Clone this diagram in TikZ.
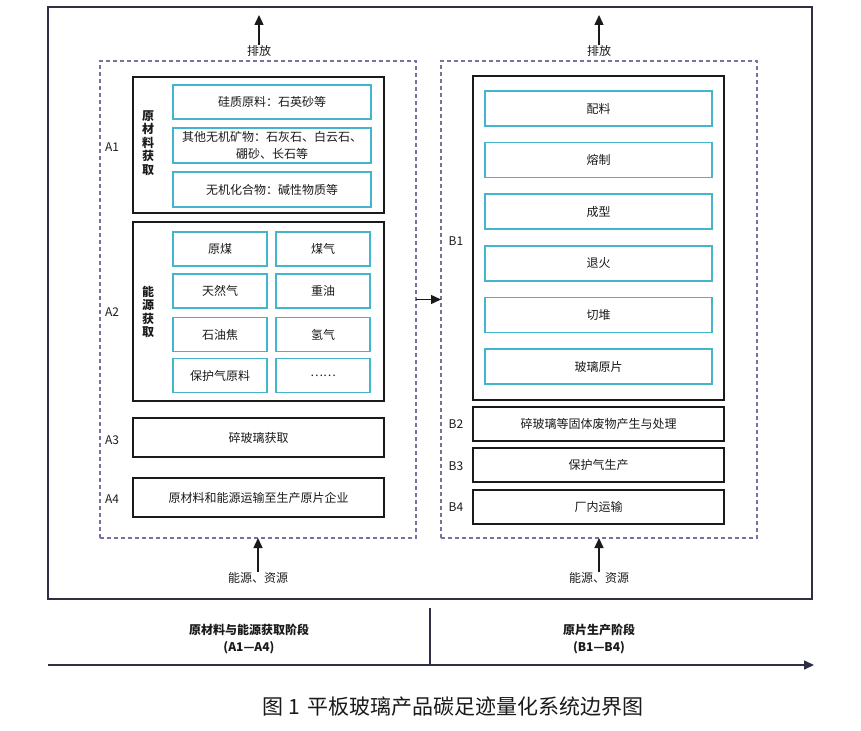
\documentclass[tikz,border=0pt]{standalone}
\usepackage{fontspec}
\setmainfont{Noto Sans CJK SC}
\usetikzlibrary{arrows.meta}
\definecolor{outerc}{HTML}{2E2F44}
\definecolor{dashc}{HTML}{7E6E9E}
\definecolor{cyanc}{HTML}{45B4CD}
\definecolor{blkc}{HTML}{1A1A1A}
\begin{document}
\begin{tikzpicture}[x=1pt,y=-1pt,
  every node/.style={inner sep=0pt, outer sep=0pt, font=\fontsize{12}{14}\selectfont, text=blkc},
  sz/.style 2 args={minimum width=#1, minimum height=#2},
  outerbox/.style={draw=outerc, line width=1.5pt},
  dashbox/.style={draw=dashc, line width=1.3pt, dash pattern=on 4pt off 3pt},
  blkbox/.style={draw=blkc, line width=1.5pt},
  cyanbox/.style={draw=cyanc, line width=1.6pt},
  vlbl/.style={font=\bfseries\fontsize{12}{13.5}\selectfont, align=center},
  arr/.style={draw=blkc, line width=1.4pt, -{Triangle[length=10pt,width=9pt]}},
  stage/.style={font=\bfseries\fontsize{12}{17}\selectfont, align=center}
]
\useasboundingbox (0,0) rectangle (861,730);

% frames
\node[outerbox, sz={764}{592}] (outer) at (430,303) {};
\node[dashbox, sz={316}{477}] (dashL) at (258,299.5) {};
\node[dashbox, sz={316}{477}] (dashR) at (599,299.5) {};

% emissions / inputs
\node (emL) at (259,51) {排放};
\coordinate (emLt) at (259,15);
\draw[arr] (emL.north) -- (emLt);
\node (emR) at (599,51) {排放};
\coordinate (emRt) at (599,15);
\draw[arr] (emR.north) -- (emRt);
\node (reL) at (258,578) {能源、资源};
\draw[arr] (reL.north) -- (dashL.south);
\node (reR) at (599,578) {能源、资源};
\draw[arr] (reR.north) -- (dashR.south);

% A1
\node[blkbox, sz={251}{136}] (A1) at (258.5,145) {};
\node (lA1) at (112,147) {A1};
\node[vlbl] (vA1) at (148,143) {原\\材\\料\\获\\取};
\node[cyanbox, sz={198}{34}] (a11) at (272,102) {硅质原料：石英砂等};
\node[cyanbox, sz={198}{35}, align=center, font=\fontsize{12}{17}\selectfont] (a12) at (272,145.5) {其他无机矿物：石灰石、白云石、\\硼砂、长石等};
\node[cyanbox, sz={198}{35}] (a13) at (272,189.5) {无机化合物：碱性物质等};

% A2
\node[blkbox, sz={251}{179}] (A2) at (258.5,311.5) {};
\node (lA2) at (112,312) {A2};
\node[vlbl] (vA2) at (148,312) {能\\源\\获\\取};
\node[cyanbox, sz={94}{34}] (a21) at (220,249) {原煤};
\node[cyanbox, sz={94}{34}] (a22) at (323,249) {煤气};
\node[cyanbox, sz={94}{34}] (a23) at (220,291) {天然气};
\node[cyanbox, sz={94}{34}] (a24) at (323,291) {重油};
\node[cyanbox, sz={94}{34}] (a25) at (220,334.5) {石油焦};
\node[cyanbox, sz={94}{34}] (a26) at (323,334.5) {氢气};
\node[cyanbox, sz={94}{34}] (a27) at (220,375.5) {保护气原料};
\node[cyanbox, sz={94}{34}] (a28) at (323,375.5) {……};

% A3, A4
\node[blkbox, sz={251}{39}] (A3) at (258.5,437.5) {碎玻璃获取};
\node (lA3) at (112,440) {A3};
\node[blkbox, sz={251}{39}] (A4) at (258.5,497.5) {原材料和能源运输至生产原片企业};
\node (lA4) at (112,499) {A4};

% B1
\node[blkbox, sz={251}{324}] (B1) at (598.5,238) {};
\node (lB1) at (456,241) {B1};
\node[cyanbox, sz={227}{35}] (b11) at (598.5,108.5) {配料};
\node[cyanbox, sz={227}{35}] (b12) at (598.5,160.1) {熔制};
\node[cyanbox, sz={227}{35}] (b13) at (598.5,211.7) {成型};
\node[cyanbox, sz={227}{35}] (b14) at (598.5,263.3) {退火};
\node[cyanbox, sz={227}{35}] (b15) at (598.5,314.9) {切堆};
\node[cyanbox, sz={227}{35}] (b16) at (598.5,366.5) {玻璃原片};

% B2-B4
\node[blkbox, sz={251}{34}] (B2) at (598.5,424) {碎玻璃等固体废物产生与处理};
\node (lB2) at (456,424) {B2};
\node[blkbox, sz={251}{34}] (B3) at (598.5,465) {保护气生产};
\node (lB3) at (456,466) {B3};
\node[blkbox, sz={251}{34}] (B4) at (598.5,507) {厂内运输};
\node (lB4) at (456,507) {B4};

% flow between stages
\draw[arr] (dashL.east) -- (dashR.west);

% time axis
\coordinate (axL) at (48,665);
\coordinate (axR) at (814,665);
\draw[arr, draw=outerc, line width=1.5pt] (axL) -- (axR);
\coordinate (dvT) at (430,608);
\coordinate (dvB) at (430,665);
\draw[draw=outerc, line width=1.3pt] (dvT) -- (dvB);
\node[stage] (stA) at (249,638.5) {原材料与能源获取阶段\\(A1—A4)};
\node[stage] (stB) at (599,638.5) {原片生产阶段\\(B1—B4)};

% caption
\node[font=\fontsize{21}{24}\selectfont] (cap) at (453,707) {图 1\hspace{8pt}平板玻璃产品碳足迹量化系统边界图};
\end{tikzpicture}
\end{document}
